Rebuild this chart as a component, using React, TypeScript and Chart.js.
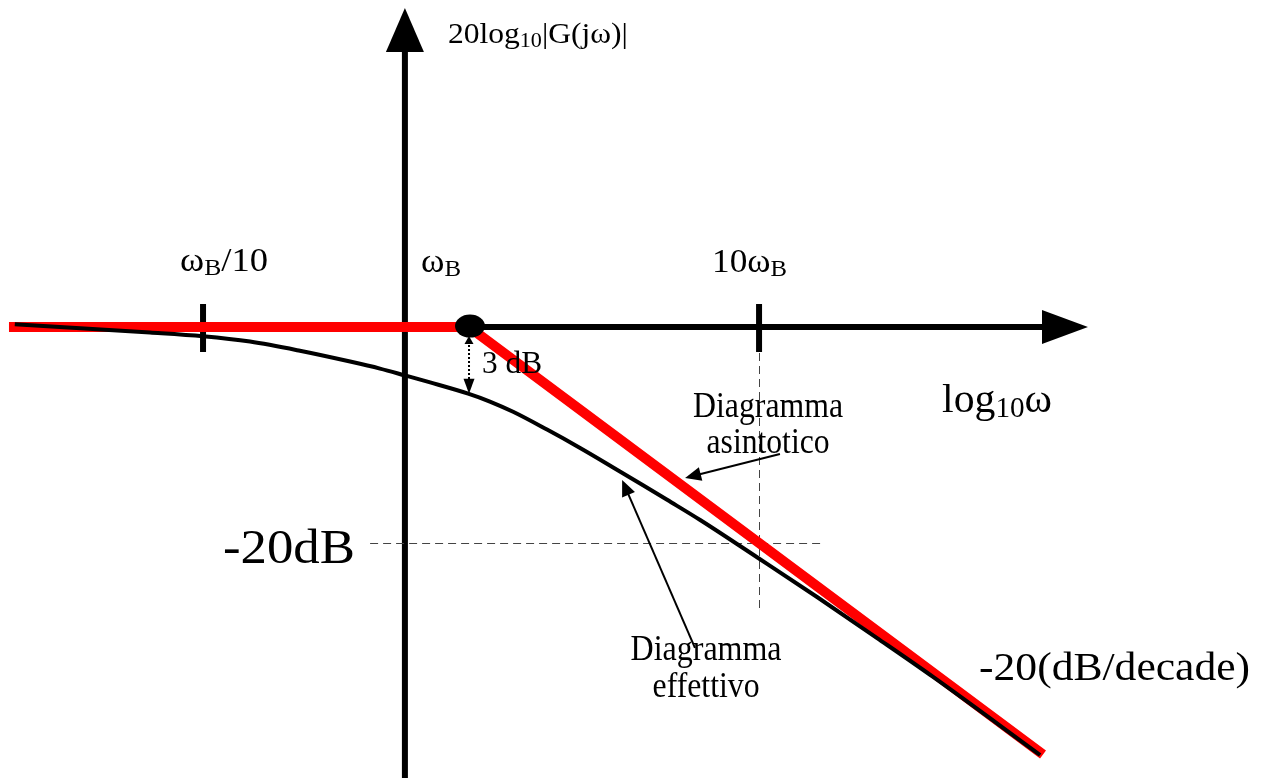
import React, { useEffect, useRef } from "react";
import { Chart, registerables } from "chart.js";

Chart.register(...registerables);

// x: log10(ω/ωB) in decades, y: 20log10|G(jω)| in dB
const asymptoticX = [-1.586, 0, 1.979];
const asymptoticDb = [0, 0, -39.58];

const effectiveX = [-1.566, -1.1, -0.917, -0.755, -0.583, -0.41, -0.307, -0.221, -0.134, -0.003, 0.072, 0.152, 0.269, 0.383, 0.497, 0.6, 0.683, 0.797, 0.997, 1.2, 1.407, 1.6, 1.969];
const effectiveDb = [0.25, -0.5, -0.85, -1.35, -2.2, -3.2, -3.85, -4.48, -5.13, -6.17, -6.9, -7.85, -9.5, -11.2, -13.0, -14.65, -16.0, -17.87, -21.39, -25.0, -28.8, -32.4, -39.63];

const tickMarks = [-0.917, 1]; // ωB/10 and 10ωB
const breakX = 0; // ωB
const breakIndex = 9; // effectiveX index at ωB
const referenceDb = -20;
const yAxisAt = -0.221;

const X_MIN = -1.617;
const X_MAX = 2.734;
const Y_MIN = -41.76;
const Y_MAX = 30.28;

const FONT = '"Liberation Serif", "Times New Roman", serif';

type Seg = [string, boolean];

function rich(
  ctx: CanvasRenderingContext2D,
  segs: Seg[],
  x: number,
  y: number,
  size: number,
  width: number,
  align: "left" | "center" = "left"
) {
  const sub = size * 0.7;
  let nat = 0;
  for (const [t, s] of segs) {
    ctx.font = `${s ? sub : size}px ${FONT}`;
    nat += ctx.measureText(t).width;
  }
  const k = width ? width / nat : 1;
  const w = nat * k;
  const x0 = align === "center" ? x - w / 2 : x;
  ctx.save();
  ctx.translate(x0, y);
  ctx.scale(k, 1);
  ctx.fillStyle = "#000";
  ctx.textAlign = "left";
  ctx.textBaseline = "alphabetic";
  let cx = 0;
  for (const [t, s] of segs) {
    ctx.font = `${s ? sub : size}px ${FONT}`;
    ctx.fillText(t, cx, s ? size * 0.13 : 0);
    cx += ctx.measureText(t).width;
  }
  ctx.restore();
}

function arrowHead(
  ctx: CanvasRenderingContext2D,
  tx: number,
  ty: number,
  fx: number,
  fy: number,
  len: number,
  half: number
) {
  const a = Math.atan2(ty - fy, tx - fx);
  const bx = tx - len * Math.cos(a);
  const by = ty - len * Math.sin(a);
  ctx.beginPath();
  ctx.moveTo(tx, ty);
  ctx.lineTo(bx + half * Math.sin(a), by - half * Math.cos(a));
  ctx.lineTo(bx - half * Math.sin(a), by + half * Math.cos(a));
  ctx.closePath();
  ctx.fill();
}

const underlay = {
  id: "underlay",
  beforeDatasetsDraw(chart: any) {
    const ctx: CanvasRenderingContext2D = chart.ctx;
    const sx = chart.scales.x;
    const sy = chart.scales.y;
    const X = (v: number) => sx.getPixelForValue(v);
    const Y = (v: number) => sy.getPixelForValue(v);
    ctx.save();
    ctx.fillStyle = "#000";
    ctx.strokeStyle = "#000";
    // vertical axis
    const vx = X(yAxisAt);
    ctx.lineWidth = 6;
    ctx.beginPath();
    ctx.moveTo(vx, Y(Y_MIN) + 5);
    ctx.lineTo(vx, Y(25.46));
    ctx.stroke();
    arrowHead(ctx, vx, Y(29.54), vx, Y(0), 44, 19);
    // horizontal axis
    ctx.lineWidth = 6;
    ctx.beginPath();
    ctx.moveTo(X(asymptoticX[0]), Y(0));
    ctx.lineTo(X(1.979), Y(0));
    ctx.stroke();
    arrowHead(ctx, X(2.134), Y(0), X(0), Y(0), 46, 17);
    // tick marks
    for (const t of tickMarks) {
      ctx.beginPath();
      ctx.moveTo(X(t), Y(0) - 23);
      ctx.lineTo(X(t), Y(0) + 25);
      ctx.stroke();
    }
    // dashed reference lines
    ctx.strokeStyle = "#444";
    ctx.lineWidth = 1;
    ctx.setLineDash([8, 5]);
    const hy = Math.round(Y(referenceDb)) + 0.5;
    const dx = Math.round(X(1)) + 0.5;
    ctx.beginPath();
    ctx.moveTo(X(-0.341), hy);
    ctx.lineTo(X(1.217), hy);
    ctx.moveTo(dx, Y(0) + 26);
    ctx.lineTo(dx, Y(-26.2));
    ctx.stroke();
    ctx.setLineDash([]);
    ctx.restore();
  },
};

const overlay = {
  id: "overlay",
  afterDatasetsDraw(chart: any) {
    const ctx: CanvasRenderingContext2D = chart.ctx;
    const sx = chart.scales.x;
    const sy = chart.scales.y;
    const X = (v: number) => sx.getPixelForValue(v);
    const Y = (v: number) => sy.getPixelForValue(v);
    ctx.save();
    ctx.fillStyle = "#000";
    ctx.strokeStyle = "#000";
    // break point dot
    const bx = X(breakX);
    const by = Y(0);
    ctx.beginPath();
    ctx.ellipse(bx + 1, by - 1, 15, 11.5, 0, 0, Math.PI * 2);
    ctx.fill();
    // 3 dB dotted double arrow
    const curveAtBreak = Y(effectiveDb[breakIndex]);
    ctx.lineWidth = 2;
    ctx.setLineDash([2, 2]);
    ctx.beginPath();
    ctx.moveTo(bx, by + 14);
    ctx.lineTo(bx, curveAtBreak - 14);
    ctx.stroke();
    ctx.setLineDash([]);
    arrowHead(ctx, bx, by + 9, bx, curveAtBreak, 8, 4.5);
    arrowHead(ctx, bx, curveAtBreak, bx, by, 15, 5.5);
    // annotation arrows
    ctx.lineWidth = 2;
    const arrows = [
      [1.072, -11.76, 0.745, -13.98],
      [0.779, -29.72, 0.528, -14.17],
    ];
    for (const [x1, y1, x2, y2] of arrows) {
      const fx = X(x1), fy = Y(y1), tx = X(x2), ty = Y(y2);
      const a = Math.atan2(ty - fy, tx - fx);
      ctx.beginPath();
      ctx.moveTo(fx, fy);
      ctx.lineTo(tx - 10 * Math.cos(a), ty - 10 * Math.sin(a));
      ctx.stroke();
      arrowHead(ctx, tx, ty, fx, fy, 16, 7);
    }
    // texts
    const vx = X(yAxisAt);
    const oy = Y(0);
    rich(ctx, [["20log", false], ["10", true], ["|G(jω)|", false]], vx + 43, oy - 284, 29, 180);
    rich(ctx, [["ω", false], ["B", true], ["/10", false]], X(tickMarks[0]) - 23, oy - 56, 33, 88);
    rich(ctx, [["ω", false], ["B", true]], X(breakX) - 48, oy - 55, 33, 40);
    rich(ctx, [["10ω", false], ["B", true]], X(tickMarks[1]) - 47, oy - 55, 33, 75);
    rich(ctx, [["3 dB", false]], X(breakX) + 13, oy + 46, 32, 60);
    rich(ctx, [["log", false], ["10", true], ["ω", false]], X(1) + 183, oy + 85, 41, 110);
    rich(ctx, [["-20dB", false]], vx - 182, Y(referenceDb) + 20, 48, 132);
    rich(ctx, [["-20(dB/decade)", false]], X(1) + 220, Y(referenceDb) + 137, 40, 271);
    rich(ctx, [["Diagramma", false]], X(1) + 9, oy + 90, 35, 150, "center");
    rich(ctx, [["asintotico", false]], X(1) + 9, oy + 126, 35, 123, "center");
    rich(ctx, [["Diagramma", false]], X(1) - 53, oy + 333, 35, 151, "center");
    rich(ctx, [["effettivo", false]], X(1) - 53, oy + 370, 35, 107, "center");
    ctx.restore();
  },
};

export default function App() {
  const ref = useRef<HTMLCanvasElement | null>(null);
  useEffect(() => {
    if (!ref.current) return;
    const chart = new Chart(ref.current, {
      type: "line",
      data: {
        datasets: [
          {
            label: "Diagramma effettivo",
            data: effectiveX.map((x, i) => ({ x, y: effectiveDb[i] })),
            borderColor: "#000",
            borderWidth: 4,
            pointRadius: 0,
            cubicInterpolationMode: "monotone",
            fill: false,
            order: 0,
          },
          {
            label: "Diagramma asintotico",
            data: asymptoticX.map((x, i) => ({ x, y: asymptoticDb[i] })),
            borderColor: "#ff0000",
            borderWidth: 10,
            pointRadius: 0,
            tension: 0,
            fill: false,
            order: 1,
            borderJoinStyle: "miter",
          },
        ],
      },
      options: {
        animation: false,
        responsive: false,
        devicePixelRatio: 1,
        layout: { padding: 0 },
        plugins: { legend: { display: false }, title: { display: false }, tooltip: { enabled: false } },
        events: [],
        scales: {
          x: { type: "linear", min: X_MIN, max: X_MAX, display: false },
          y: { type: "linear", min: Y_MIN, max: Y_MAX, display: false },
        },
      },
      plugins: [underlay, overlay],
    } as any);
    return () => chart.destroy();
  }, []);
  return (
    <div style={{ position: "fixed", left: 0, top: 0, width: 1262, height: 778, background: "#fff" }}>
      <canvas ref={ref} width={1262} height={778} style={{ display: "block", width: 1262, height: 778 }} />
    </div>
  );
}
